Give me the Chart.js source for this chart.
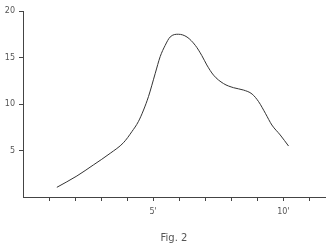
<!DOCTYPE html>
<html>
<head>
<meta charset="utf-8">
<script src="https://cdn.jsdelivr.net/npm/chart.js@4"></script>
<style>
  html, body { margin: 0; padding: 0; background: #fff; }
  #wrap { width: 333px; height: 250px; }
</style>
</head>
<body>
<div id="wrap"><canvas id="fig2"></canvas></div>
<script>
// curve (minutes vs value)
const minutes = [1.30, 2.07, 2.70, 3.35, 3.86, 4.18, 4.43, 4.63, 4.82, 5.08, 5.27, 5.46, 5.65, 5.97,
                 6.30, 6.62, 6.87, 7.06, 7.32, 7.70, 8.09, 8.47, 8.80, 9.05, 9.31, 9.56, 9.88, 10.2];
const values  = [1.04, 2.26, 3.44, 4.70, 5.84, 7.02, 8.10, 9.35, 10.8, 13.3, 15.1, 16.3, 17.2, 17.5,
                 17.2, 16.3, 15.2, 14.2, 13.1, 12.2, 11.75, 11.5, 11.07, 10.25, 9.0, 7.74, 6.67, 5.48];
const xLabels = { 5: "5'", 10: "10'" };
const yTicks  = [5, 10, 15, 20];
const caption = 'Fig. 2';

const ink = '#444';
const hideZero = (c) => (c.tick && c.tick.value === 0) ? 'rgba(0,0,0,0)' : ink;

new Chart(document.getElementById('fig2').getContext('2d'), {
  type: 'scatter',
  data: {
    datasets: [{
      data: minutes.map((m, i) => ({ x: m, y: values[i] })),
      showLine: true,
      borderColor: '#333',
      borderWidth: 1,
      pointRadius: 0,
      cubicInterpolationMode: 'monotone',
      fill: false,
    }],
  },
  options: {
    responsive: true,
    maintainAspectRatio: false,
    animation: false,
    layout: { padding: { top: 11, right: 8, left: 0, bottom: 0 } },
    plugins: { legend: { display: false }, tooltip: { enabled: false } },
    scales: {
      x: {
        type: 'linear',
        min: 0,
        max: 11.6,
        border: { display: true, color: ink, width: 1 },
        grid: { drawOnChartArea: false, drawTicks: true, tickLength: 4, color: hideZero },
        ticks: {
          stepSize: 1,
          includeBounds: false,
          autoSkip: false,
          maxRotation: 0,
          padding: 6,
          color: '#555',
          font: { family: 'DejaVu Sans', size: 8 },
          callback: (v) => xLabels[v] || '',
        },
        title: {
          display: true,
          text: caption,
          color: '#555',
          font: { family: 'DejaVu Sans', size: 10 },
          padding: { top: 12, bottom: 6 },
        },
        afterFit: (s) => { s.height = 53; },
      },
      y: {
        type: 'linear',
        min: 0,
        max: 20,
        border: { display: true, color: ink, width: 1 },
        grid: { drawOnChartArea: false, drawTicks: true, tickLength: 4, color: hideZero },
        afterBuildTicks: (s) => { s.ticks = yTicks.map(v => ({ value: v })); },
        ticks: {
          padding: 4,
          color: '#555',
          font: { family: 'DejaVu Sans', size: 8 },
        },
        afterFit: (s) => { s.width = 23; },
      },
    },
  },
});
</script>
</body>
</html>
